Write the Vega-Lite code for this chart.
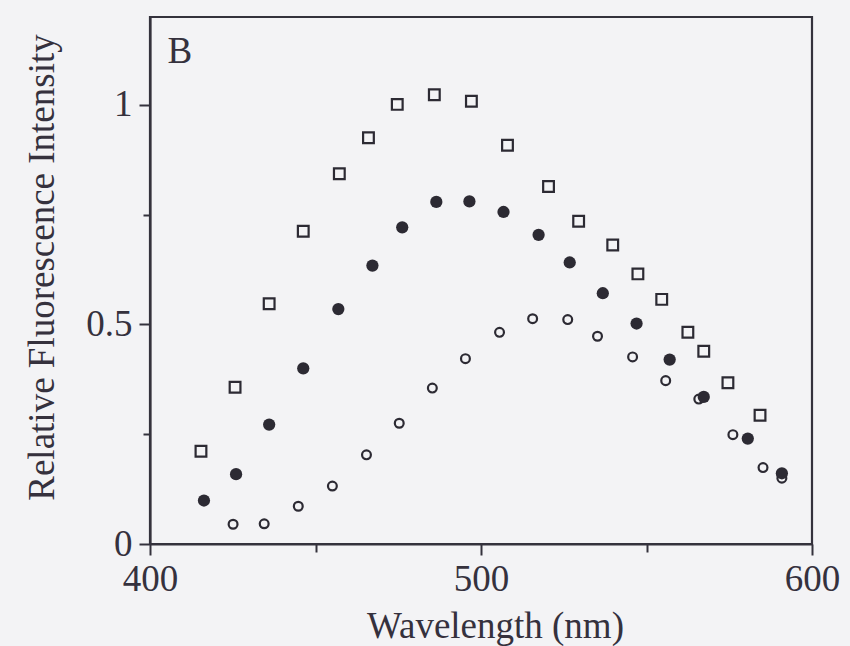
{
  "$schema": "https://vega.github.io/schema/vega-lite/v6.json",
  "autosize": {"type": "none"},
  "padding": {"left": 150, "top": 17, "right": 38, "bottom": 102},
  "width": 662,
  "height": 527,
  "background": "#f3f3f5",
  "config": {
    "font": "Liberation Serif, Times New Roman, DejaVu Serif, serif",
    "view": {"stroke": "#34323c", "strokeWidth": 2.2},
    "axis": {"grid": false, "labelFont": "Liberation Serif, Times New Roman, serif", "titleFont": "Liberation Serif, Times New Roman, serif"},
    "text": {"font": "Liberation Serif, Times New Roman, serif"}
  },
  "datasets": {
    "pts": [
      {"s": "open", "x": 425.1, "y": 0.045},
      {"s": "open", "x": 434.5, "y": 0.046},
      {"s": "open", "x": 444.8, "y": 0.086},
      {"s": "open", "x": 455.1, "y": 0.132},
      {"s": "open", "x": 465.4, "y": 0.203},
      {"s": "open", "x": 475.3, "y": 0.275},
      {"s": "open", "x": 485.3, "y": 0.355},
      {"s": "open", "x": 495.3, "y": 0.422},
      {"s": "open", "x": 505.6, "y": 0.482},
      {"s": "open", "x": 515.6, "y": 0.513},
      {"s": "open", "x": 526.2, "y": 0.511},
      {"s": "open", "x": 535.2, "y": 0.473},
      {"s": "open", "x": 545.8, "y": 0.426},
      {"s": "open", "x": 555.8, "y": 0.372},
      {"s": "open", "x": 565.8, "y": 0.330},
      {"s": "open", "x": 576.1, "y": 0.249},
      {"s": "open", "x": 585.2, "y": 0.174},
      {"s": "open", "x": 590.9, "y": 0.150},
      {"s": "filled", "x": 416.3, "y": 0.099},
      {"s": "filled", "x": 426.0, "y": 0.159},
      {"s": "filled", "x": 436.0, "y": 0.272},
      {"s": "filled", "x": 446.3, "y": 0.400},
      {"s": "filled", "x": 456.9, "y": 0.535},
      {"s": "filled", "x": 467.2, "y": 0.634},
      {"s": "filled", "x": 476.2, "y": 0.721},
      {"s": "filled", "x": 486.5, "y": 0.779},
      {"s": "filled", "x": 496.5, "y": 0.780},
      {"s": "filled", "x": 506.8, "y": 0.756},
      {"s": "filled", "x": 517.4, "y": 0.704},
      {"s": "filled", "x": 526.8, "y": 0.641},
      {"s": "filled", "x": 536.8, "y": 0.571},
      {"s": "filled", "x": 547.0, "y": 0.502},
      {"s": "filled", "x": 557.0, "y": 0.420},
      {"s": "filled", "x": 567.3, "y": 0.335},
      {"s": "filled", "x": 580.6, "y": 0.240},
      {"s": "filled", "x": 590.9, "y": 0.161},
      {"s": "square", "x": 415.4, "y": 0.211},
      {"s": "square", "x": 425.7, "y": 0.357},
      {"s": "square", "x": 436.0, "y": 0.547},
      {"s": "square", "x": 446.3, "y": 0.712},
      {"s": "square", "x": 457.2, "y": 0.843},
      {"s": "square", "x": 466.0, "y": 0.925},
      {"s": "square", "x": 474.7, "y": 1.001},
      {"s": "square", "x": 485.9, "y": 1.023},
      {"s": "square", "x": 497.1, "y": 1.008},
      {"s": "square", "x": 508.0, "y": 0.908},
      {"s": "square", "x": 520.4, "y": 0.814},
      {"s": "square", "x": 529.5, "y": 0.735},
      {"s": "square", "x": 539.8, "y": 0.681},
      {"s": "square", "x": 547.4, "y": 0.615},
      {"s": "square", "x": 554.6, "y": 0.557},
      {"s": "square", "x": 562.5, "y": 0.482},
      {"s": "square", "x": 567.3, "y": 0.439},
      {"s": "square", "x": 574.6, "y": 0.367},
      {"s": "square", "x": 584.3, "y": 0.293}
    ],
    "panel": [{"label": "B", "x": 409, "y": 1.096}]
  },
  "encoding": {
    "x": {
      "field": "x", "type": "quantitative",
      "scale": {"domain": [400, 600], "nice": false, "zero": false},
      "axis": {
        "title": "Wavelength (nm)",
        "values": [400, 450, 500, 550, 600],
        "labelExpr": "datum.value % 100 == 0 ? datum.label : ''",
        "tickSize": {"condition": {"test": "datum.value % 100 != 0", "value": 8}, "value": 11},
        "tickWidth": 2, "domainWidth": 2.2,
        "tickColor": "#34323c", "domainColor": "#34323c",
        "labelFontSize": 37, "labelColor": "#35313d", "labelPadding": 6,
        "labelFlush": false, "labelOverlap": false,
        "titleFontSize": 37, "titleFontWeight": "normal", "titleColor": "#35313d",
        "titleX": 345, "titleY": 93, "titleBaseline": "alphabetic", "titleAlign": "center"
      }
    },
    "y": {
      "field": "y", "type": "quantitative",
      "scale": {"domain": [0, 1.2], "nice": false},
      "axis": {
        "title": "Relative Fluorescence Intensity",
        "values": [0, 0.25, 0.5, 0.75, 1],
        "labelExpr": "datum.value == 0.25 || datum.value == 0.75 ? '' : datum.label",
        "format": "~g",
        "tickSize": {"condition": {"test": "datum.value == 0.25 || datum.value == 0.75", "value": 7}, "value": 11},
        "tickWidth": 2, "domainWidth": 2.2,
        "tickColor": "#34323c", "domainColor": "#34323c",
        "labelFontSize": 37, "labelColor": "#35313d", "labelPadding": 7,
        "labelFlush": false, "labelOverlap": false, "labelBaseline": "middle",
        "titleFontSize": 37, "titleFontWeight": "normal", "titleColor": "#35313d",
        "titleAngle": -90, "titleX": -97, "titleY": 250, "titleBaseline": "alphabetic", "titleAlign": "center"
      }
    }
  },
  "layer": [
    {
      "data": {"name": "pts"},
      "transform": [{"filter": "datum.s == 'open'"}],
      "mark": {"type": "point", "shape": "circle", "filled": false, "size": 78, "stroke": "#2c2a33", "strokeWidth": 2.2, "opacity": 1}
    },
    {
      "data": {"name": "pts"},
      "transform": [{"filter": "datum.s == 'filled'"}],
      "mark": {"type": "point", "shape": "circle", "filled": true, "size": 150, "fill": "#2c2a33", "opacity": 1}
    },
    {
      "data": {"name": "pts"},
      "transform": [{"filter": "datum.s == 'square'"}],
      "mark": {"type": "point", "shape": "square", "filled": false, "size": 115, "stroke": "#2c2a33", "strokeWidth": 2.2, "opacity": 1}
    },
    {
      "data": {"name": "panel"},
      "mark": {"type": "text", "fontSize": 37, "color": "#35313d", "align": "center", "baseline": "alphabetic"},
      "encoding": {"text": {"field": "label"}}
    }
  ]
}
